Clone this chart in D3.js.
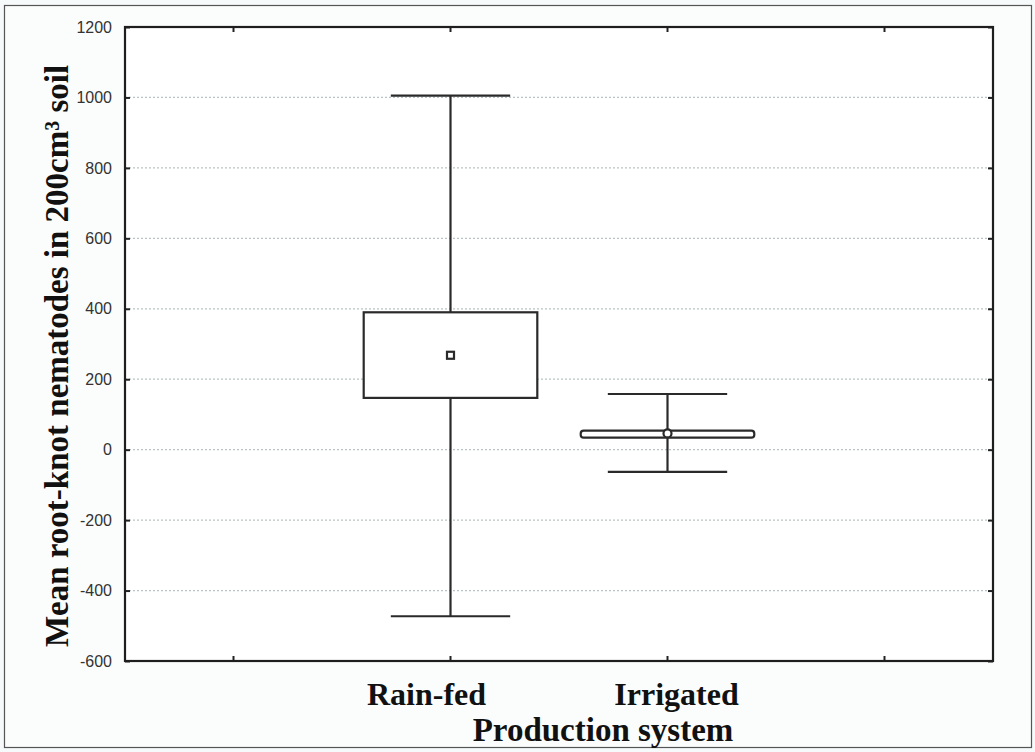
<!DOCTYPE html>
<html><head><meta charset="utf-8">
<script src="https://cdn.jsdelivr.net/npm/d3@7"></script>
<style>html,body{margin:0;padding:0;background:#fff;}svg{display:block;}</style>
</head><body>
<svg id="chart" width="1035" height="752"></svg>
<script>
// ---- data ----
const categories = ["", "Rain-fed", "Irrigated", ""];
const groups = ["Rain-fed", "Irrigated"];
const means = [268, 46];
const boxLow = [147, 34];
const boxHigh = [390, 54];
const whiskerLow = [-473, -63];
const whiskerHigh = [1005, 158];
const yTicks = [-600, -400, -200, 0, 200, 400, 600, 800, 1000, 1200];
const yTickLabels = ["-600", "-400", "-200", "0", "200", "400", "600", "800", "1000", "1200"];
const yLabel = "Mean root-knot nematodes in 200cm\u00B3 soil";
const xLabel = "Production system";

const svg = d3.select("#chart");
const W = 1035, H = 752;
const m = {left: 125, right: 1035 - 993, top: 27, bottom: 752 - 661};

svg.append("rect").attr("x", 0).attr("y", 0).attr("width", W).attr("height", H).attr("fill", "#f6fafa");
svg.append("rect").attr("x", 4.5).attr("y", 5.5).attr("width", 1027).attr("height", 742)
  .attr("fill", "#fbfdfd").attr("stroke", "#555").attr("stroke-width", 1.2);

const x = d3.scaleBand().domain(categories.map((c, i) => i)).range([m.left, W - m.right]);
const y = d3.scaleLinear().domain([-600, 1200]).range([H - m.bottom, m.top]);
const cx = i => x(i) + x.bandwidth() / 2;

// plot background
svg.append("rect").attr("x", m.left).attr("y", m.top).attr("width", W - m.left - m.right)
  .attr("height", H - m.top - m.bottom).attr("fill", "#ffffff");

// gridlines
svg.append("g").selectAll("line").data(yTicks.filter(t => t > -600 && t < 1200)).join("line")
  .attr("x1", m.left).attr("x2", W - m.right)
  .attr("y1", d => y(d)).attr("y2", d => y(d))
  .attr("stroke", "#b9c4c4").attr("stroke-width", 1.2).attr("stroke-dasharray", "2,2");

// axes
const fmt = d => yTickLabels[yTicks.indexOf(d)];
const yAxisL = svg.append("g").attr("transform", `translate(${m.left},0)`)
  .call(d3.axisLeft(y).tickValues(yTicks).tickFormat(fmt).tickSizeInner(-5).tickSizeOuter(0).tickPadding(13));
yAxisL.select(".domain").remove();
yAxisL.selectAll("line").attr("stroke", "#222").attr("stroke-width", 2);
yAxisL.selectAll("text").attr("font-family", "Liberation Sans, Arial, sans-serif")
  .attr("font-size", 16).attr("fill", "#333");

const yAxisR = svg.append("g").attr("transform", `translate(${W - m.right},0)`)
  .call(d3.axisRight(y).tickValues(yTicks).tickFormat("").tickSizeInner(-5).tickSizeOuter(0));
yAxisR.select(".domain").remove();
yAxisR.selectAll("line").attr("stroke", "#222").attr("stroke-width", 2);

const xAxisB = svg.append("g").attr("transform", `translate(0,${H - m.bottom})`)
  .call(d3.axisBottom(x).tickFormat("").tickSizeInner(-5).tickSizeOuter(0));
xAxisB.select(".domain").remove();
xAxisB.selectAll("line").attr("stroke", "#222").attr("stroke-width", 2);
const xAxisT = svg.append("g").attr("transform", `translate(0,${m.top})`)
  .call(d3.axisTop(x).tickFormat("").tickSizeInner(-5).tickSizeOuter(0));
xAxisT.select(".domain").remove();
xAxisT.selectAll("line").attr("stroke", "#222").attr("stroke-width", 2);

// frame
svg.append("rect").attr("x", m.left).attr("y", m.top).attr("width", W - m.left - m.right)
  .attr("height", H - m.top - m.bottom).attr("fill", "none").attr("stroke", "#1e1e1e").attr("stroke-width", 2.2);

// boxes
const boxW = x.bandwidth() * 0.8;
const capW = x.bandwidth() * 0.55;
const g = svg.append("g").attr("stroke", "#2a2a2a").attr("stroke-width", 2.2).attr("fill", "none");
groups.forEach((name, k) => {
  const i = categories.indexOf(name);
  const c = cx(i);
  g.append("line").attr("x1", c).attr("x2", c).attr("y1", y(whiskerHigh[k])).attr("y2", y(boxHigh[k]));
  g.append("line").attr("x1", c).attr("x2", c).attr("y1", y(boxLow[k])).attr("y2", y(whiskerLow[k]));
  g.append("line").attr("x1", c - capW / 2).attr("x2", c + capW / 2).attr("y1", y(whiskerHigh[k])).attr("y2", y(whiskerHigh[k]));
  g.append("line").attr("x1", c - capW / 2).attr("x2", c + capW / 2).attr("y1", y(whiskerLow[k])).attr("y2", y(whiskerLow[k]));
  g.append("rect").attr("x", c - boxW / 2).attr("y", y(boxHigh[k])).attr("width", boxW)
    .attr("height", y(boxLow[k]) - y(boxHigh[k])).attr("fill", "#fff")
    .attr("rx", k === 1 ? 3 : 0);
  if (k === 0) {
    g.append("rect").attr("x", c - 3.5).attr("y", y(means[k]) - 3.5).attr("width", 7).attr("height", 7).attr("fill", "#fff");
  } else {
    g.append("circle").attr("cx", c).attr("cy", y(means[k])).attr("r", 4).attr("fill", "#fff");
  }
});

// category labels
const labOffset = {"Rain-fed": -24, "Irrigated": 9};
svg.append("g").selectAll("text").data(groups).join("text")
  .attr("x", d => cx(categories.indexOf(d)) + labOffset[d]).attr("y", 705)
  .attr("text-anchor", "middle").attr("font-family", "Liberation Serif, Times New Roman, serif")
  .attr("font-weight", "bold").attr("font-size", 32).attr("fill", "#111").text(d => d);

svg.append("text").attr("x", 603).attr("y", 741).attr("text-anchor", "middle")
  .attr("font-family", "Liberation Serif, Times New Roman, serif").attr("font-weight", "bold")
  .attr("font-size", 33).attr("fill", "#111").text(xLabel);

svg.append("text").attr("transform", "translate(68,356) rotate(-90)").attr("text-anchor", "middle")
  .attr("font-family", "Liberation Serif, Times New Roman, serif").attr("font-weight", "bold")
  .attr("font-size", 33).attr("fill", "#111").text(yLabel);
</script>
</body></html>
